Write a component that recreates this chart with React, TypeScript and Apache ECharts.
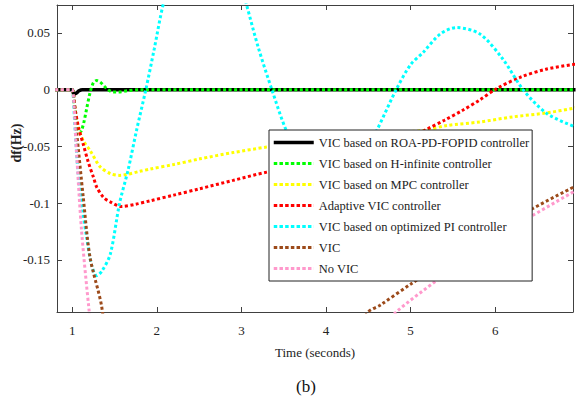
import React, { useEffect, useRef } from "react";
import * as echarts from "echarts";

const seriesNames = [
  "VIC based on ROA-PD-FOPID controller",
  "VIC based on H-infinite controller",
  "VIC based on MPC controller",
  "Adaptive VIC controller",
  "VIC based on optimized PI controller",
  "VIC",
  "No VIC",
];

const roaT = [0.8, 0.98, 1.0, 1.02, 1.05, 1.08, 1.12, 1.5, 3, 5, 6.95];
const roaV = [0, 0, 0, -0.004, -0.003, -0.001, 0, 0, 0, 0, 0];

const hinfT = [0.8, 0.98, 1.0, 1.03, 1.06, 1.09, 1.11, 1.14, 1.17, 1.21, 1.25, 1.29, 1.33, 1.38, 1.42, 1.48, 1.55, 1.65, 1.8, 3, 5, 6.95];
const hinfV = [0, 0, 0, -0.015, -0.03, -0.038, -0.036, -0.028, -0.017, -0.003, 0.006, 0.008, 0.0067, 0.003, 0, -0.002, -0.002, -0.001, 0, 0, 0, 0];

const mpcT = [0.8, 0.98, 1.0, 1.03, 1.07, 1.13, 1.21, 1.33, 1.45, 1.56, 1.8, 1.92, 2.2, 2.51, 2.9, 3.3, 3.8, 4.3, 4.8, 5.15, 5.43, 5.82, 6.21, 6.61, 6.95];
const mpcV = [0, 0, 0, -0.018, -0.033, -0.045, -0.0535, -0.068, -0.074, -0.0756, -0.072, -0.07, -0.066, -0.061, -0.0555, -0.0506, -0.046, -0.042, -0.038, -0.036, -0.0316, -0.0285, -0.024, -0.0205, -0.016];

const adaptT = [0.8, 0.98, 1.0, 1.04, 1.08, 1.13, 1.19, 1.25, 1.29, 1.37, 1.45, 1.58, 1.75, 1.92, 2.2, 2.51, 2.9, 3.3, 3.8, 4.3, 4.7, 5.0, 5.19, 5.4, 5.62, 5.82, 6.02, 6.3, 6.6, 6.95];
const adaptV = [0, 0, 0, -0.02, -0.035, -0.048, -0.064, -0.077, -0.086, -0.095, -0.099, -0.103, -0.101, -0.098, -0.093, -0.0873, -0.08, -0.0727, -0.066, -0.058, -0.05, -0.043, -0.035, -0.027, -0.018, -0.009, 0.001, 0.011, 0.018, 0.0225];

const piT = [0.8, 0.98, 1.0, 1.03, 1.07, 1.12, 1.17, 1.23, 1.29, 1.35, 1.45, 1.56, 1.66, 1.76, 1.87, 1.97, 2.075, 2.2, 2.4, 2.6, 2.8, 2.95, 3.06, 3.2, 3.36, 3.53, 3.7, 3.9, 4.1, 4.3, 4.45, 4.6, 4.83, 5.0, 5.15, 5.35, 5.54, 5.82, 6.09, 6.33, 6.61, 6.95];
const piV = [0, 0, 0, -0.03, -0.074, -0.105, -0.13, -0.155, -0.164, -0.16, -0.145, -0.1, -0.071, -0.036, 0, 0.036, 0.075, 0.105, 0.13, 0.14, 0.13, 0.105, 0.075, 0.037, 0, -0.036, -0.06, -0.076, -0.08, -0.072, -0.056, -0.036, 0, 0.022, 0.033, 0.049, 0.0547, 0.049, 0.027, 0, -0.021, -0.033];

const vicT = [0.8, 0.98, 1.0, 1.05, 1.13, 1.21, 1.35, 1.5, 2.5, 3.5, 4.2, 4.5, 4.64, 5.03, 5.5, 6.0, 6.44, 6.95];
const vicV = [0, 0, 0, -0.036, -0.0947, -0.1476, -0.192, -0.28, -0.42, -0.35, -0.23, -0.196, -0.19, -0.17, -0.148, -0.125, -0.105, -0.085];

const noVicT = [0.8, 0.98, 1.0, 1.05, 1.11, 1.2, 1.3, 2.5, 4.0, 4.6, 4.83, 5.31, 5.8, 6.1, 6.44, 6.95];
const noVicV = [0, 0, 0, -0.055, -0.124, -0.195, -0.26, -0.45, -0.3, -0.215, -0.196, -0.168, -0.14, -0.126, -0.111, -0.089];

const colors = ["#000000", "#00ff00", "#ffff00", "#ff0000", "#00ffff", "#9c4a1a", "#ff99cc"];
const dottedFlags = [false, true, true, true, true, true, true];

const serif = "'Times New Roman', 'Liberation Serif', serif";

export default function App() {
  const ref = useRef<HTMLDivElement>(null);
  useEffect(() => {
    if (!ref.current) return;
    const chart = echarts.init(ref.current, null, { renderer: "svg" });
    const times = [roaT, hinfT, mpcT, adaptT, piT, vicT, noVicT];
    const vals = [roaV, hinfV, mpcV, adaptV, piV, vicV, noVicV];
    const dash = [3, 2.5];
    const series = seriesNames.map((name, i) => ({
      type: "line",
      name,
      data: times[i].map((t, j) => [t, vals[i][j]]),
      symbol: "none",
      smooth: 0.3,
      clip: true,
      silent: true,
      xAxisIndex: 0,
      yAxisIndex: 0,
      itemStyle: { color: colors[i] },
      lineStyle: {
        color: colors[i],
        width: dottedFlags[i] ? 3 : 3.5,
        type: dottedFlags[i] ? dash : "solid",
        cap: "butt",
      },
    }));
    const axisLineStyle = { color: "#404040", width: 1 };
    const labelStyle = { fontFamily: serif, fontSize: 13, color: "#222" };
    const xMin = 0.82;
    const xMax = 6.92;
    const yMin = -0.196;
    const yMax = 0.0746;
    chart.setOption({
      animation: false,
      grid: { left: 57, top: 5, right: 9, bottom: 86, containLabel: false },
      xAxis: [
        {
          type: "value",
          min: xMin,
          max: xMax,
          position: "bottom",
          axisLine: { show: true, onZero: false, lineStyle: axisLineStyle },
          axisTick: { show: true, inside: true, length: 5, lineStyle: axisLineStyle },
          axisLabel: { ...labelStyle, margin: 12, showMinLabel: false, showMaxLabel: false },
          splitLine: { show: false },
          name: "Time (seconds)",
          nameLocation: "middle",
          nameGap: 34,
          nameTextStyle: { ...labelStyle },
        },
        {
          type: "value",
          min: xMin,
          max: xMax,
          position: "top",
          axisLine: { show: true, onZero: false, lineStyle: axisLineStyle },
          axisTick: { show: true, inside: true, length: 5, lineStyle: axisLineStyle },
          axisLabel: { show: false },
          splitLine: { show: false },
        },
      ],
      yAxis: [
        {
          type: "value",
          min: yMin,
          max: yMax,
          position: "left",
          axisLine: { show: true, onZero: false, lineStyle: axisLineStyle },
          axisTick: { show: true, inside: true, length: 5, lineStyle: axisLineStyle },
          axisLabel: { ...labelStyle, margin: 7, showMinLabel: false, showMaxLabel: false },
          splitLine: { show: false },
        },
        {
          type: "value",
          min: yMin,
          max: yMax,
          position: "right",
          axisLine: { show: true, onZero: false, lineStyle: axisLineStyle },
          axisTick: { show: true, inside: true, length: 5, lineStyle: axisLineStyle },
          axisLabel: { show: false },
          splitLine: { show: false },
        },
      ],
      legend: {
        orient: "vertical",
        left: 269,
        top: 130,
        padding: [6, 3, 6, 3],
        itemWidth: 40,
        itemHeight: 14,
        itemGap: 8,
        backgroundColor: "#ffffff",
        borderColor: "#222",
        borderWidth: 1,
        borderRadius: 0,
        selectedMode: false,
        itemStyle: { opacity: 0 },
        textStyle: { fontFamily: serif, fontSize: 12.5, color: "#222" },
        data: seriesNames.map((name, i) => ({
          name,
          itemStyle: { opacity: 0 },
          lineStyle: {
            color: colors[i],
            width: dottedFlags[i] ? 3 : 3.5,
            type: dottedFlags[i] ? [3.5, 2.2] : "solid",
            cap: "butt",
            opacity: 1,
          },
        })),
      },
      graphic: [
        {
          type: "text",
          x: 16,
          y: 143,
          rotation: Math.PI / 2,
          style: {
            text: "df(Hz)",
            fontFamily: serif,
            fontWeight: "bold",
            fontSize: 14,
            fill: "#222",
            align: "center",
            verticalAlign: "middle",
          },
        },
        {
          type: "text",
          x: 306,
          y: 386,
          style: {
            text: "(b)",
            fontFamily: serif,
            fontSize: 17,
            fill: "#111",
            align: "center",
            verticalAlign: "middle",
          },
        },
      ],
      series,
    });
    return () => chart.dispose();
  }, []);
  return (
    <div
      ref={ref}
      style={{ position: "fixed", left: 0, top: 0, width: 582, height: 398, background: "#fff" }}
    />
  );
}
